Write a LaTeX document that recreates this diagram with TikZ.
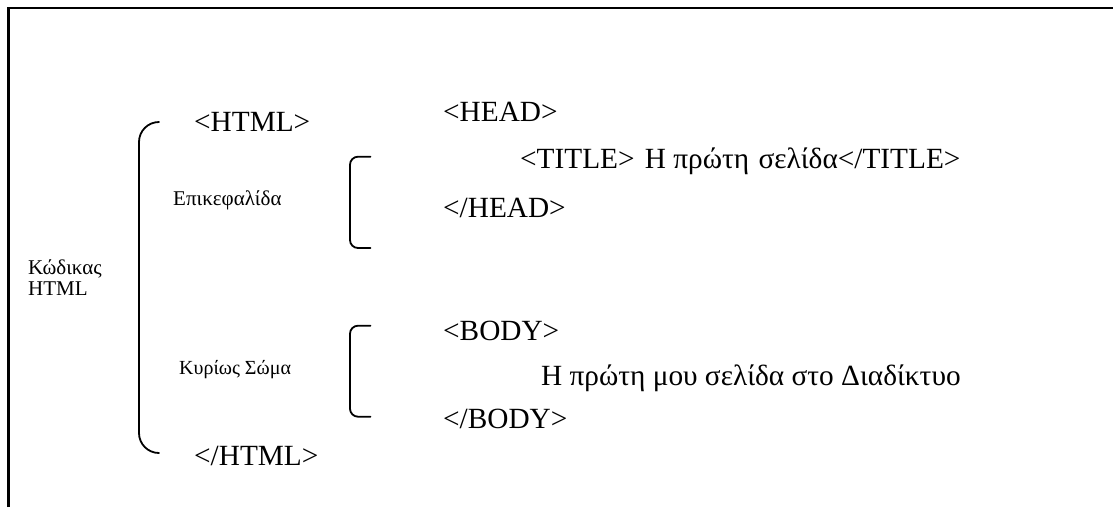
\documentclass[tikz,border=0pt]{standalone}
\usepackage{fontspec}
\setmainfont{Liberation Serif}
\begin{document}
\begin{tikzpicture}[x=1pt,y=-1pt,
  big/.style={anchor=base west,inner sep=0pt,font=\fontsize{29.3}{31}\selectfont},
  small/.style={anchor=base west,inner sep=0pt,font=\fontsize{21}{22}\selectfont},
  brace/.style={line width=1.8pt,line cap=round}]
\useasboundingbox (0,0) rectangle (1115,507);
% frame
\draw[line width=2.6pt] (8.5,507) -- (8.5,7.8) -- (1113,7.8);
% left labels
\node[small] (kod) at (28,274) {Κώδικας};
\node[small] (html) at (28,295) {HTML};
\node[small] (epi) at (173,205) {Επικεφαλίδα};
\node[small,font=\fontsize{20}{21}\selectfont] (kyr) at (179,374) {Κυρίως Σώμα};
% tags
\node[big] (hopen) at (194,131) {<HTML>};
\node[big] (hclose) at (194,465) {</HTML>};
\node[big] (headopen) at (443,121.5) {<HEAD>};
\node[big] (title) at (520,168) {<TITLE>\hspace{3pt} Η πρώτη\hspace{2pt} σελίδα</TITLE>};
\node[big] (headclose) at (443,217) {</HEAD>};
\node[big] (bodyopen) at (443,340) {<BODY>};
\node[big] (bodytext) at (541,385) {Η πρώτη μου σελίδα στο Διαδίκτυο};
\node[big] (bodyclose) at (443,428) {</BODY>};
% brackets
\draw[brace,rounded corners=20pt] (159,122) -- (139,122) -- (139,453) -- (159,453);
\draw[brace,rounded corners=8pt] (370.5,156.7) -- (350,156.7) -- (350,248) -- (370.5,248);
\draw[brace,rounded corners=8pt] (370.5,325.7) -- (350,325.7) -- (350,416.7) -- (370.5,416.7);
\end{tikzpicture}
\end{document}
